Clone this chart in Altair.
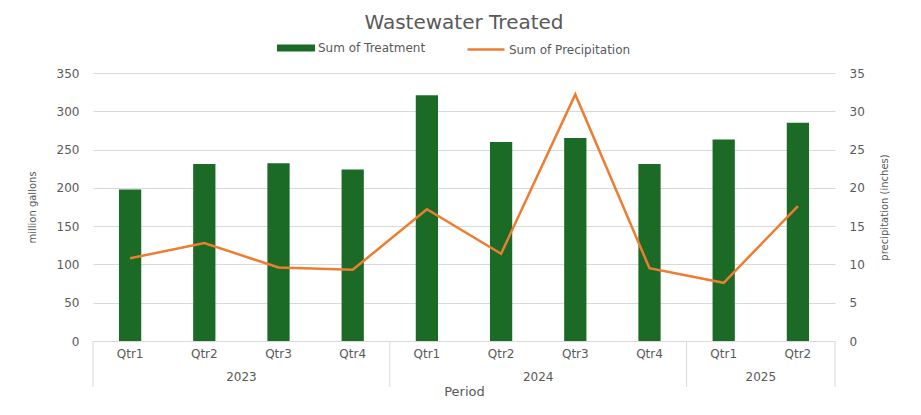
import altair as alt
import pandas as pd

# ---- data ----
years = ["2023", "2023", "2023", "2023", "2024", "2024", "2024", "2024", "2025", "2025"]
quarters = ["Qtr1", "Qtr2", "Qtr3", "Qtr4", "Qtr1", "Qtr2", "Qtr3", "Qtr4", "Qtr1", "Qtr2"]
treatment = [198, 231, 232, 224, 321, 260, 265, 231, 263, 285]
precipitation = [10.8, 12.8, 9.6, 9.3, 17.2, 11.4, 32.2, 9.5, 7.6, 17.6]
year_list = ["2023", "2024", "2025"]

GREEN = "#1B6B26"
ORANGE = "#ED7D31"
GRID = "#D9D9D9"
TXT = "#595959"
FONT = "DejaVu Sans"

keys = [f"{y}-{q}" for y, q in zip(years, quarters)]
df = pd.DataFrame({
    "key": keys, "year": years, "quarter": quarters,
    "treatment": treatment, "precipitation": precipitation,
    "s1": "Sum of Treatment", "s2": "Sum of Precipitation",
})

# year label anchor: right edge of middle band (all groups have even counts)
ylab = []
sep_left = []
for y in year_list:
    ks = [k for k, yy in zip(keys, years) if yy == y]
    ylab.append({"key": ks[len(ks) // 2 - 1], "year": y})
    sep_left.append({"key": ks[0]})
ylab_df = pd.DataFrame(ylab)
sep_left_df = pd.DataFrame(sep_left)
sep_right_df = pd.DataFrame({"key": [keys[-1]]})

xscale = alt.Scale(type="band", domain=keys, paddingInner=0, paddingOuter=0)
xaxis = alt.Axis(
    labelExpr="split(datum.label, '-')[1]", labelAngle=0, ticks=False,
    domainColor=GRID, labelColor=TXT, labelFont=FONT, labelFontSize=12,
    labelPadding=7, titlePadding=26, titleFont=FONT, titleFontSize=13,
    titleColor=TXT, titleFontWeight="normal", grid=False,
)


def X(bp=None):
    if bp is None:
        return alt.X("key:N", scale=xscale, axis=xaxis, title="Period")
    return alt.X("key:N", scale=xscale, axis=xaxis, title="Period", bandPosition=bp)


bars = alt.Chart(df).mark_bar(width={"band": 0.3}, color=GREEN).encode(
    x=X(),
    y=alt.Y("treatment:Q", scale=alt.Scale(domain=[0, 350]),
            axis=alt.Axis(values=list(range(0, 351, 50)), title="million gallons",
                          grid=True, gridColor=GRID, domain=False, ticks=False,
                          labelPadding=14, labelColor=TXT, labelFont=FONT, labelFontSize=12,
                          titleFont=FONT, titleFontSize=10, titleColor=TXT,
                          titleFontWeight="normal", titlePadding=19)),
    color=alt.Color("s1:N", scale=alt.Scale(domain=["Sum of Treatment"], range=[GREEN]),
                    legend=alt.Legend(orient="none", legendX=184, legendY=-44, title=None,
                                      symbolType="M-1,-0.18H1V0.18H-1Z", symbolSize=1444,
                                      symbolStrokeWidth=0, labelFont=FONT, labelFontSize=12,
                                      labelColor=TXT, padding=0, labelOffset=3)),
)

line = alt.Chart(df).mark_line(strokeWidth=2.5, color=ORANGE).encode(
    x=X(),
    y=alt.Y("precipitation:Q", scale=alt.Scale(domain=[0, 35]),
            axis=alt.Axis(orient="right", values=list(range(0, 36, 5)),
                          title="precipitation (inches)", grid=False, domain=False,
                          ticks=False, labelPadding=14, labelColor=TXT, labelFont=FONT,
                          labelFontSize=12, titleFont=FONT, titleFontSize=10,
                          titleColor=TXT, titleFontWeight="normal", titlePadding=25,
                          titleAngle=270)),
    stroke=alt.Stroke("s2:N", scale=alt.Scale(domain=["Sum of Precipitation"], range=[ORANGE]),
                      legend=alt.Legend(orient="none", legendX=373, legendY=-43.5, title=None,
                                        symbolType="stroke", symbolSize=1369,
                                        symbolStrokeWidth=2.5, labelFont=FONT, labelFontSize=12,
                                        labelColor=TXT, padding=0, labelOffset=3)),
)

year_text = alt.Chart(ylab_df).mark_text(
    font=FONT, fontSize=12, color=TXT, baseline="middle", align="center"
).encode(x=X(1), y=alt.value(304), text="year:N")

seps_l = alt.Chart(sep_left_df).mark_rule(color=GRID, strokeWidth=1).encode(
    x=X(0), y=alt.value(268), y2=alt.value(314))
seps_r = alt.Chart(sep_right_df).mark_rule(color=GRID, strokeWidth=1).encode(
    x=X(1), y=alt.value(268), y2=alt.value(314))

chart = alt.layer(bars, line, year_text, seps_l, seps_r).resolve_scale(
    y="independent", color="independent", stroke="independent"
).properties(
    width=742, height=268,
    autosize=alt.AutoSizeParams(type="none"),
    padding={"left": 85, "top": 65, "right": 70, "bottom": 60},
    title=alt.TitleParams("Wastewater Treated", font=FONT, fontSize=20, color=TXT,
                          fontWeight="normal", anchor="middle", offset=-4),
).configure_view(strokeWidth=0)

chart.save("out.html", embed_options={"renderer": "svg", "actions": False})
